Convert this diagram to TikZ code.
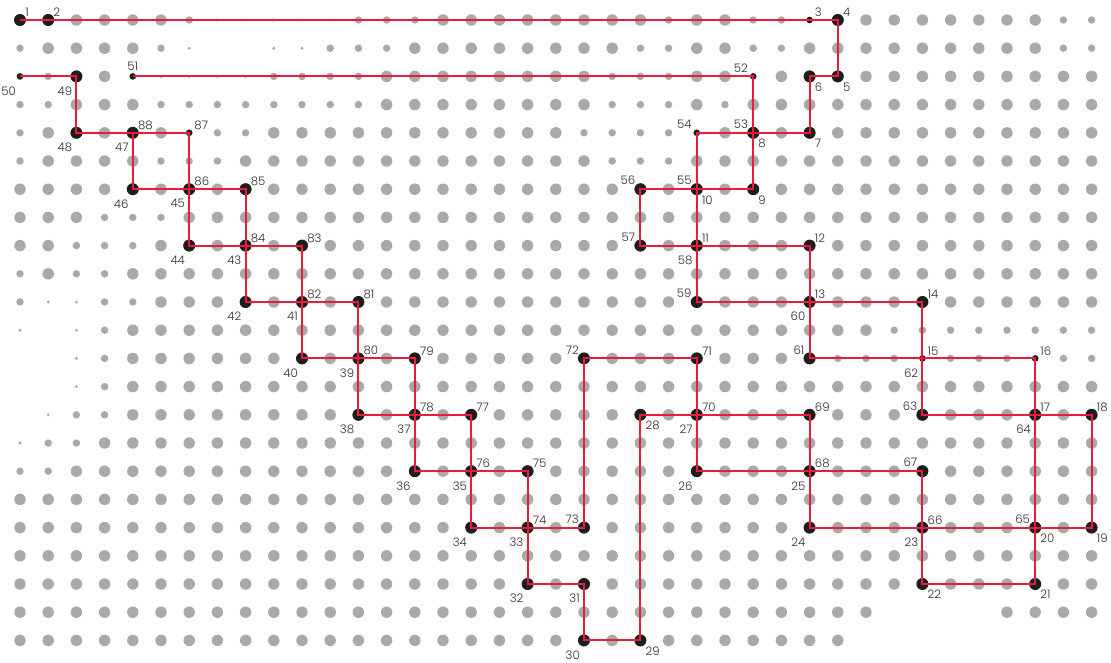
\documentclass[tikz,border=0pt]{standalone}
\usepackage{fontspec}
\setmainfont{Poppins Light}
\definecolor{dotgrey}{RGB}{167,169,172}
\definecolor{nodeblk}{RGB}{30,28,29}
\definecolor{pathred}{RGB}{233,28,60}
\definecolor{labgrey}{RGB}{45,45,45}
\def\radL{4.3pt}
\def\radM{2.8pt}
\def\radT{1.2pt}
\newcount\colidx
\newcommand\gdot[3]{\if#3N\else\fill[dotgrey] ({20+28.2*#1},{20+28.2*#2}) circle[radius=\csname rad#3\endcsname];\fi}
\def\dorow#1#2{\def\rowidx{#1}\colidx=0 \parsechars#2\relax}
\def\parsechars#1{\ifx#1\relax\else\gdot{\the\colidx}{\rowidx}{#1}\advance\colidx by 1 \expandafter\parsechars\fi}
\newcommand\gridpt[3]{\coordinate (n#1) at ({20+28.2*#2},{20+28.2*#3});}
\newcommand\alias[2]{\coordinate (n#1) at (n#2);}
\newcommand\lab[2]{\node[lab,#2] (l#1) at (n#1) {#1};}
\begin{document}
\begin{tikzpicture}[x=0.75pt,y=-0.75pt,
  redline/.style={draw=pathred,line width=1.4pt,line join=miter},
  blk/.style={fill=nodeblk},
  lab/.style={inner sep=0pt,text=labgrey,font=\fontsize{8.8pt}{8.8pt}\selectfont},
  tr/.style={anchor=south west,xshift=3.75pt,yshift=2.25pt},
  bl/.style={anchor=north east,xshift=-3pt,yshift=-7.5pt},
  br/.style={anchor=north west,xshift=3.75pt,yshift=-4.5pt},
  tl/.style={anchor=south east,xshift=-3.75pt,yshift=3pt},
  tp/.style={anchor=south,yshift=4pt}]
\useasboundingbox (0,0) rectangle (1111,662);
% grey halftone grid
\dorow{0}{LLLLLLMTTTTTMMMLLLLLLLLMLLMMNLLLLLLLLMM}
\dorow{1}{MLLLLMTNNTTMMMLLLLLLLLMMLLMMLLLLLLLLLMM}
\dorow{2}{NMLLNTTTTMMMMLLLLLLLLMMMLLNLLLLLLLLLLLL}
\dorow{3}{MMLLLMMMMMMMMLLLLLLLLMMMLMLLLLLLLLLLLLL}
\dorow{4}{MLLLLLNMMLLLLLLLLLLLMMMMNLLLLLLLLLLLLLL}
\dorow{5}{MLLLLMMMLLLLLLLLLLLLLMMMLLLLLLLLLLLLLLL}
\dorow{6}{LLLLLLLLLLLLLLLLLLLLLLLLLLLLLLLLLLLLLLL}
\dorow{7}{LLLMMMLLLLLLLLLLLLLLLLLLLLLLLLLLLLLLLLL}
\dorow{8}{LLMMMLLLLLLLLLLLLLLLLLLLLLLLLLLLLLLLLLL}
\dorow{9}{MLMMLLLLLLLLLLLLLLLLLLLLLLLLLLLLLLLLLLL}
\dorow{10}{MTTMMLLLLLLLLLLLLLLLLLLLLLLLLLLLLLLLLLL}
\dorow{11}{TNTMLLLLLLLLLLLLLLLLLLLLLLLLLLLMMMMMMMM}
\dorow{12}{NNTMLLLLLLLLLLLLLLLLLLLLLLLLLMMMNMMMNMM}
\dorow{13}{NNTMLLLLLLLLLLLLLLLLLLLLLLLLLLLLLLLLLLL}
\dorow{14}{NTMMLLLLLLLLLLLLLLLLLLLLLLLLLLLLLLLLLLL}
\dorow{15}{TMMLLLLLLLLLLLLLLLLLLLLLLLLLLLLLLLLLLLL}
\dorow{16}{MMLLLLLLLLLLLLLLLLLLLLLLLLLLLLLLLLLLLLL}
\dorow{17}{LLLLLLLLLLLLLLLLLLLLLLLLLLLLLLLLLLLLLLL}
\dorow{18}{LLLLLLLLLLLLLLLLLLLLLLLLLLLLLLLLLLLLLLL}
\dorow{19}{LLLLLLLLLLLLLLLLLLLLLLLLLLLLLLLLLLLLLLL}
\dorow{20}{LLLLLLLLLLLLLLLLLLLLLLLLLLLLLLLLLLLLLLL}
\dorow{21}{LLLLLLLLLLLLLLLLLLLLLLLLLLLLLLLNNNNLLLL}
\dorow{22}{LLLLLLLLLLLLLLLLLLLLLLLLLLLLLLNNNNNNNNN}
% named points
\gridpt{1}{0}{0}\gridpt{2}{1}{0}\gridpt{3}{28}{0}\gridpt{4}{29}{0}
\gridpt{5}{29}{2}\gridpt{6}{28}{2}\gridpt{7}{28}{4}\gridpt{8}{26}{4}
\gridpt{9}{26}{6}\gridpt{10}{24}{6}\gridpt{11}{24}{8}\gridpt{12}{28}{8}
\gridpt{13}{28}{10}\gridpt{14}{32}{10}\gridpt{15}{32}{12}\gridpt{16}{36}{12}
\gridpt{17}{36}{14}\gridpt{18}{38}{14}\gridpt{19}{38}{18}\gridpt{20}{36}{18}
\gridpt{21}{36}{20}\gridpt{22}{32}{20}\gridpt{23}{32}{18}\gridpt{24}{28}{18}
\gridpt{25}{28}{16}\gridpt{26}{24}{16}\gridpt{27}{24}{14}\gridpt{28}{22}{14}
\gridpt{29}{22}{22}\gridpt{30}{20}{22}\gridpt{31}{20}{20}\gridpt{32}{18}{20}
\gridpt{33}{18}{18}\gridpt{34}{16}{18}\gridpt{35}{16}{16}\gridpt{36}{14}{16}
\gridpt{37}{14}{14}\gridpt{38}{12}{14}\gridpt{39}{12}{12}\gridpt{40}{10}{12}
\gridpt{41}{10}{10}\gridpt{42}{8}{10}\gridpt{43}{8}{8}\gridpt{44}{6}{8}
\gridpt{45}{6}{6}\gridpt{46}{4}{6}\gridpt{47}{4}{4}\gridpt{48}{2}{4}
\gridpt{49}{2}{2}\gridpt{50}{0}{2}
\gridpt{51}{4}{2}\gridpt{52}{26}{2}\alias{53}{8}\gridpt{54}{24}{4}
\alias{55}{10}\gridpt{56}{22}{6}\gridpt{57}{22}{8}\alias{58}{11}
\gridpt{59}{24}{10}\alias{60}{13}\gridpt{61}{28}{12}\alias{62}{15}
\gridpt{63}{32}{14}\alias{64}{17}\alias{65}{20}\alias{66}{23}
\gridpt{67}{32}{16}\alias{68}{25}\gridpt{69}{28}{14}\alias{70}{27}
\gridpt{71}{24}{12}\gridpt{72}{20}{12}\gridpt{73}{20}{18}\alias{74}{33}
\gridpt{75}{18}{16}\alias{76}{35}\gridpt{77}{16}{14}\alias{78}{37}
\gridpt{79}{14}{12}\alias{80}{39}\gridpt{81}{12}{10}\alias{82}{41}
\gridpt{83}{10}{8}\alias{84}{43}\gridpt{85}{8}{6}\alias{86}{45}
\gridpt{87}{6}{4}\alias{88}{47}
% black dots
\foreach \k in {1,2,4,5,6,7,8,9,10,11,12,13,14,17,18,19,20,21,22,23,24,25,26,27,28,29,30,31,32,33,34,35,36,37,38,39,40,41,42,43,44,45,46,47,48,49,56,57,59,61,63,67,69,71,72,73,75,77,79,81,83,85}
  \fill[blk] (n\k) circle[radius=4.5pt];
\foreach \k in {3,15,16,50,51,52,54,87}
  \fill[blk] (n\k) circle[radius=2.5pt];
% red paths
\draw[redline] (n1) -- (n2) -- (n3) -- (n4) -- (n5) -- (n6) -- (n7) -- (n8) -- (n9) -- (n10)
  -- (n11) -- (n12) -- (n13) -- (n14) -- (n15) -- (n16) -- (n17) -- (n18) -- (n19) -- (n20)
  -- (n21) -- (n22) -- (n23) -- (n24) -- (n25) -- (n26) -- (n27) -- (n28) -- (n29) -- (n30)
  -- (n31) -- (n32) -- (n33) -- (n34) -- (n35) -- (n36) -- (n37) -- (n38) -- (n39) -- (n40)
  -- (n41) -- (n42) -- (n43) -- (n44) -- (n45) -- (n46) -- (n47) -- (n48) -- (n49) -- (n50);
\draw[redline] (n51) -- (n52) -- (n53) -- (n54) -- (n55) -- (n56) -- (n57) -- (n58) -- (n59) -- (n60)
  -- (n61) -- (n62) -- (n63) -- (n64) -- (n65) -- (n66) -- (n67) -- (n68) -- (n69) -- (n70)
  -- (n71) -- (n72) -- (n73) -- (n74) -- (n75) -- (n76) -- (n77) -- (n78) -- (n79) -- (n80)
  -- (n81) -- (n82) -- (n83) -- (n84) -- (n85) -- (n86) -- (n87) -- (n88);
% labels
\foreach \k in {1,2,3,4,11,12,13,14,15,16,17,18,66,68,69,70,71,74,75,76,77,78,79,80,81,82,83,84,85,86,87,88}
  {\lab{\k}{tr}}
\foreach \k in {5,6,7,8,9,10,19,20,21,22,28,29}
  {\lab{\k}{br}}
\foreach \k in {23,24,25,26,27,30,31,32,33,34,35,36,37,38,39,40,41,42,43,44,45,46,47,48,49,50,58,60,62,64}
  {\lab{\k}{bl}}
\foreach \k in {52,53,54,55,56,57,59,61,63,65,67,72,73}
  {\lab{\k}{tl}}
\lab{51}{tp}
\end{tikzpicture}
\end{document}
